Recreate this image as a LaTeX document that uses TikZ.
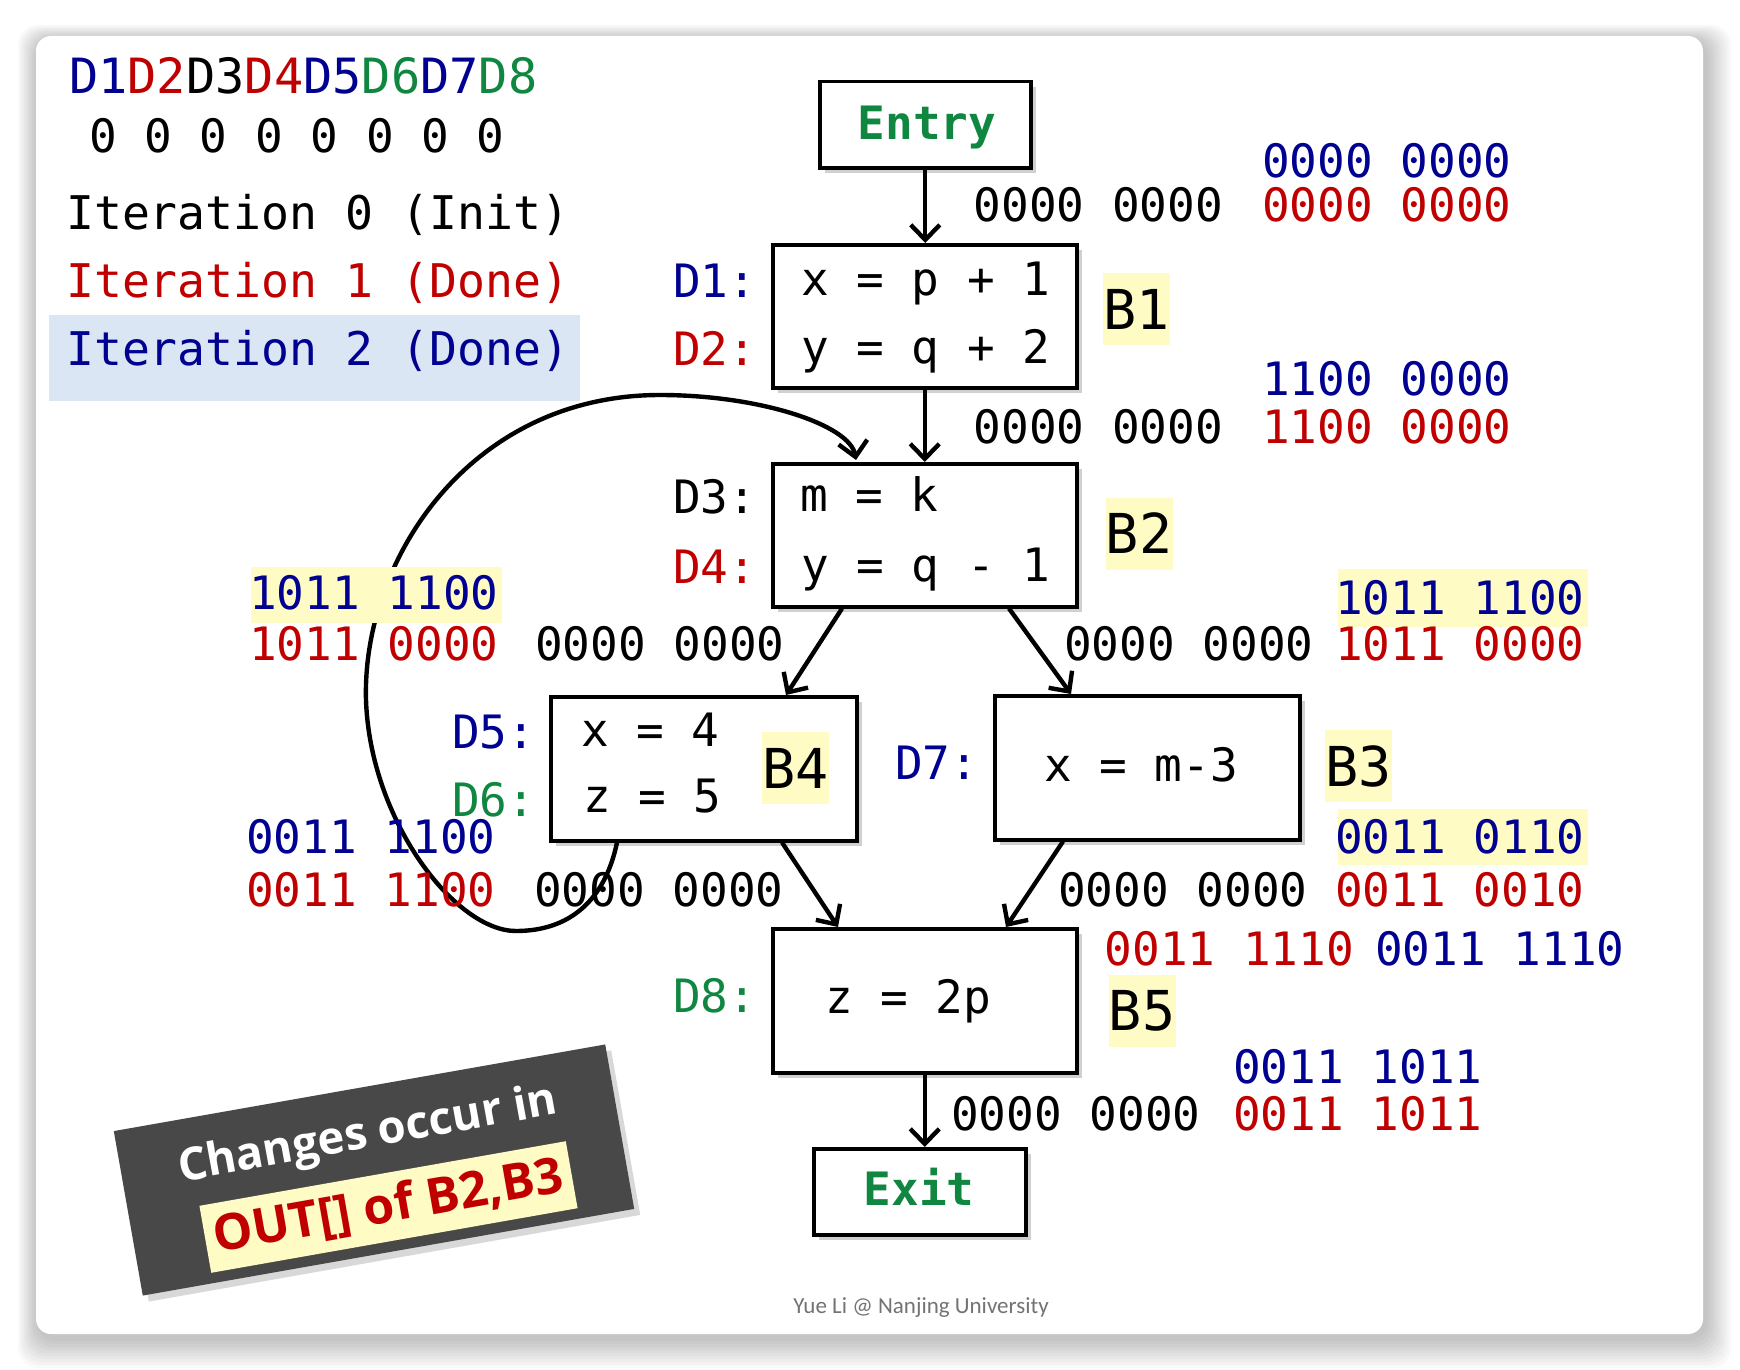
\documentclass[tikz,border=0pt]{standalone}
\usepackage{fontspec}
\setmainfont{DejaVu Sans}
\newfontfamily\monof{DejaVu Sans Mono}
\newfontfamily\footf{Carlito}
\newfontfamily\casualf{Open Sans}
\usetikzlibrary{arrows.meta,shadows,calc}
\definecolor{dred}{RGB}{192,0,0}
\definecolor{dblue}{RGB}{0,0,145}
\definecolor{dgreen}{RGB}{16,135,64}
\definecolor{hlyellow}{RGB}{255,251,196}
\definecolor{hlblue}{RGB}{218,230,243}
\definecolor{callgray}{RGB}{72,72,72}
\newcommand\myfs[1]{\fontsize{#1}{#1}\selectfont}
\newcommand\bits[5]{\node[mono, text=#4] (#1) at (#2,#3) {#5};}
\begin{document}
\begin{tikzpicture}[x=1pt,y=-1pt,
  mono/.style={inner sep=0pt, anchor=base west, font=\monof\myfs{46}},
  cfgbox/.style={draw, line width=3.5pt, fill=white, inner sep=0pt, anchor=north west,
     drop shadow={shadow xshift=5pt, shadow yshift=-5pt, opacity=0.3, fill=black!60}},
  blab/.style={fill=hlyellow, inner sep=0pt, minimum width=67pt, minimum height=72pt, font=\monof\myfs{55}},
  arr/.style={line width=4.4pt, -{Straight Barb[length=15pt,width=29pt]}},
  termtxt/.style={inner sep=0pt, anchor=base, text=dgreen, font=\monof\bfseries\myfs{46}}]
\useasboundingbox (0,0) rectangle (1740,1370);
\fill[white] (0,0) rectangle (1740,1370);
% card shadow
\foreach \i in {1,...,10}{
  \fill[black, opacity=0.022, rounded corners=20pt] (36-2*\i+2,36-1.5*\i+4) rectangle (1703+2.6*\i+2,1334+3*\i+4);
}
\fill[white, rounded corners=15pt] (36,36) rectangle (1703,1334);
% iteration 2 highlight
\fill[hlblue] (49,315) rectangle (580,401);
% boxes
\node[cfgbox, minimum width=211pt, minimum height=86pt] (Entry) at (818,80) {};
\node[cfgbox, minimum width=304pt, minimum height=143pt] (B1) at (771,243) {};
\node[cfgbox, minimum width=304pt, minimum height=143pt] (B2) at (771,462) {};
\node[cfgbox, minimum width=306pt, minimum height=144pt] (B4) at (549,695) {};
\node[cfgbox, minimum width=305pt, minimum height=144pt] (B3) at (993,694) {};
\node[cfgbox, minimum width=304pt, minimum height=144pt] (B5) at (771,927) {};
\node[cfgbox, minimum width=212pt, minimum height=86pt] (Exit) at (812,1147) {};
% loop edge B4 -> B2
\coordinate (ls) at ($(B4.south west)+(68,0)$);
\coordinate (le) at ($(B2.north west)+(85,-2)$);
\draw[arr] (ls) .. controls (605,900) and (570,931) .. (516,931)
  .. controls (455,931) and (370,820) .. (366,700)
  .. controls (362,560) and (470,395) .. (660,395)
  .. controls (760,395) and (850,425) .. (le);
% straight edges
\draw[arr] (Entry.south) -- (Entry.south |- B1.north);
\draw[arr] (B1.south) -- (B2.north);
\draw[arr] ($(B2.south west)+(71,0)$) -- ($(B4.north west)+(237,0)$);
\draw[arr] ($(B2.south west)+(238,0)$) -- ($(B3.north west)+(78,0)$);
\draw[arr] ($(B4.south west)+(233,0)$) -- ($(B5.north west)+(67,0)$);
\draw[arr] ($(B3.south west)+(70,0)$) -- ($(B5.north west)+(235,0)$);
\draw[arr] (B5.south) -- (B5.south |- Exit.north);
% legend
\node[mono, font=\monof\myfs{48.6}] (hdr) at (69,94) {\textcolor{dblue}{D1}\textcolor{dred}{D2}D3\textcolor{dred}{D4}\textcolor{dblue}{D5}\textcolor{dgreen}{D6}\textcolor{dblue}{D7}\textcolor{dgreen}{D8}};
\node[mono] (zeros) at (89,153) {0 0 0 0 0 0 0 0};
\node[mono, font=\monof\myfs{46.4}] (it0) at (66,229) {Iteration 0 (Init)};
\node[mono, font=\monof\myfs{46.4}, text=dred] (it1) at (66,297) {Iteration 1 (Done)};
\node[mono, font=\monof\myfs{46.4}, text=dblue] (it2) at (66,365) {Iteration 2 (Done)};
% entry / exit
\node[termtxt] (entrytxt) at (927,140) {Entry};
\node[termtxt] (exittxt) at (919,1205) {Exit};
% D labels
\node[mono, text=dblue] (d1) at (673,297) {D1:};
\node[mono, text=dred] (d2) at (673,365) {D2:};
\node[mono] (d3) at (673,513) {D3:};
\node[mono, text=dred] (d4) at (673,583) {D4:};
\node[mono, text=dblue] (d5) at (452,748) {D5:};
\node[mono, text=dgreen] (d6) at (452,816) {D6:};
\node[mono, text=dblue] (d7) at (895,779) {D7:};
\node[mono, text=dgreen] (d8) at (673,1012) {D8:};
% statements
\node[mono] (s1) at (801,295) {x = p + 1};
\node[mono] (s2) at (801,363) {y = q + 2};
\node[mono] (s3) at (800,511) {m = k};
\node[mono] (s4) at (801,581) {y = q - 1};
\node[mono] (s5) at (581,746) {x = 4};
\node[mono] (s6) at (583,812) {z = 5};
\node[mono] (s7) at (1044,781) {x = m-3};
\node[mono] (s8) at (825,1013) {z = 2p};
% block labels
\node[blab] (L1) at (1136.5,309) {B1};
\node[blab] (L2) at (1139,533.5) {B2};
\node[blab] (L4) at (795.5,768) {B4};
\node[blab] (L3) at (1358.5,766) {B3};
\node[blab] (L5) at (1142,1011) {B5};
% bit vectors
\bits{eb1}{1262}{177}{dblue}{0000 0000}
\bits{ek1}{973.5}{221}{black}{0000 0000}
\bits{er1}{1262}{221}{dred}{0000 0000}
\bits{b1b}{1262}{395}{dblue}{1100 0000}
\bits{b1k}{973.5}{443}{black}{0000 0000}
\bits{b1r}{1262}{443}{dred}{1100 0000}
\fill[hlyellow] (1338,569) rectangle (1588,627);
\bits{b2Rb}{1335}{614}{dblue}{1011 1100}
\bits{b2Rk}{1064}{660}{black}{0000 0000}
\bits{b2Rr}{1335}{660}{dred}{1011 0000}
\fill[hlyellow] (251,567) rectangle (502,623);
\bits{b2Lb}{249}{609}{dblue}{1011 1100}
\bits{b2Lr}{249}{660}{dred}{1011 0000}
\bits{b2Lk}{535}{660}{black}{0000 0000}
\bits{b4b}{246}{853}{dblue}{0011 1100}
\bits{b4r}{246}{906}{dred}{0011 1100}
\bits{b4k}{534}{906}{black}{0000 0000}
\fill[hlyellow] (1338,809) rectangle (1588,865);
\bits{b3b}{1335}{853}{dblue}{0011 0110}
\bits{b3k}{1058}{906}{black}{0000 0000}
\bits{b3r}{1335}{906}{dred}{0011 0010}
\bits{b5ir}{1104.5}{965}{dred}{0011 1110}
\bits{b5ib}{1375}{965}{dblue}{0011 1110}
\bits{b5b}{1233}{1083}{dblue}{0011 1011}
\bits{b5k}{951}{1130}{black}{0000 0000}
\bits{b5r}{1233}{1130}{dred}{0011 1011}
% callout
\node[rotate=10, fill=callgray, minimum width=499pt, minimum height=167pt, inner sep=0pt,
  drop shadow={shadow xshift=6pt, shadow yshift=-6pt, opacity=0.3}] (call) at (374,1170) {};
\node[rotate=10.3, text=white, inner sep=0pt, font=\casualf\bfseries\myfs{45.5}] (ct1) at (368,1136) {Changes occur in};
\node[rotate=10, fill=hlyellow, text=dred, inner sep=0pt, minimum width=372pt, minimum height=68pt, font=\casualf\bfseries\myfs{50}] (ct2) at (388.5,1207) {OUT[] of B2,B3};
% footer
\node[inner sep=0pt, text=black!55, font=\footf\myfs{23}] (foot) at (921,1308) {Yue Li @ Nanjing University};
\end{tikzpicture}
\end{document}
